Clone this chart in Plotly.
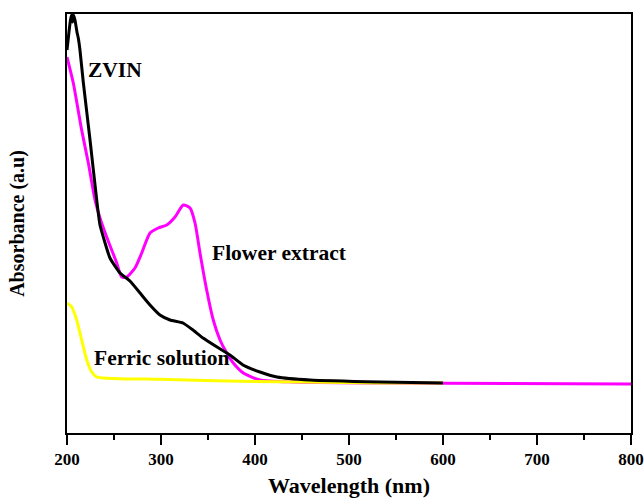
import plotly.graph_objects as go

zvin_x = [200.0, 202.1, 203.7, 204.8, 205.9, 206.9, 208.5, 210.6, 212.0, 213.8, 217.3, 224.5, 231.6,
          235.1, 245.7, 256.4, 267.0, 277.7, 288.3, 298.9, 309.6, 323.4, 334.0, 344.7, 359.6, 373.4,
          387.2, 405.3, 423.4, 458.5, 533.0, 600.0]
zvin_y = [3.83, 4.01, 4.13, 4.18, 4.11, 4.18, 4.13, 4.01, 3.95, 3.83, 3.51, 2.93, 2.33,
          2.08, 1.75, 1.60, 1.52, 1.40, 1.28, 1.18, 1.13, 1.10, 1.03, 0.95, 0.86, 0.78,
          0.68, 0.61, 0.56, 0.53, 0.51, 0.50]

flower_x = [200.0, 206.7, 215.6, 222.7, 229.8, 235.1, 242.2, 252.9, 258.2, 263.5, 272.3, 279.5,
            288.3, 297.1, 306.1, 314.9, 323.7, 330.9, 336.2, 341.5, 348.6, 355.6, 362.8, 369.9,
            376.9, 387.6, 405.3, 440.4, 533.0, 800.0]
flower_y = [3.76, 3.50, 3.03, 2.70, 2.33, 2.15, 1.96, 1.70, 1.56, 1.56, 1.65, 1.80,
            2.00, 2.05, 2.08, 2.16, 2.28, 2.25, 2.10, 1.80, 1.43, 1.13, 0.93, 0.80,
            0.70, 0.60, 0.53, 0.51, 0.50, 0.49]

ferric_x = [200.0, 205.0, 210.3, 215.6, 221.0, 226.3, 231.6, 238.6, 263.5, 284.8, 298.9, 369.9, 533.0, 600.0]
ferric_y = [1.30, 1.26, 1.13, 0.93, 0.73, 0.61, 0.56, 0.55, 0.54, 0.54, 0.537, 0.52, 0.50, 0.50]

x_ticks = [200, 300, 400, 500, 600, 700, 800]

FONT = "Liberation Serif, Times New Roman, serif"

fig = go.Figure()
fig.add_trace(go.Scatter(x=flower_x, y=flower_y, mode="lines", line=dict(color="#FF00FF", width=3, shape="spline", smoothing=0.6), name="Flower extract"))
fig.add_trace(go.Scatter(x=ferric_x, y=ferric_y, mode="lines", line=dict(color="#FFFF00", width=3, shape="spline", smoothing=0.6), name="Ferric solution"))
fig.add_trace(go.Scatter(x=zvin_x, y=zvin_y, mode="lines", line=dict(color="#000000", width=3, shape="spline", smoothing=0.4), name="ZVIN"))

annos = [
    ("ZVIN", 222.3, 3.63),
    ("Flower extract", 354.3, 1.80),
    ("Ferric solution", 228.7, 0.75),
]
for txt, ax, ay in annos:
    fig.add_annotation(x=ax, y=ay, text="<b>" + txt + "</b>", showarrow=False, xanchor="left", yanchor="middle",
                       xshift=-2, font=dict(family=FONT, size=21.5, color="black"))

fig.update_layout(
    width=644, height=498,
    margin=dict(l=67, r=13, t=14, b=65),
    paper_bgcolor="white", plot_bgcolor="white",
    showlegend=False,
    font=dict(family=FONT, color="black"),
    xaxis=dict(
        range=[200, 800], tickvals=x_ticks, ticktext=["<b>%d</b>" % v for v in x_ticks],
        ticks="outside", ticklen=10, tickwidth=2, tickcolor="black",
        minor=dict(dtick=50, tick0=0, ticks="outside", ticklen=5, tickwidth=2, tickcolor="black"),
        showline=True, linewidth=2, linecolor="black", mirror=True,
        showgrid=False, zeroline=False, automargin=False,
        tickfont=dict(family=FONT, size=17, color="black"),
        title=dict(text="<b>Wavelength (nm)</b>", font=dict(family=FONT, size=22, color="black"), standoff=9),
    ),
    yaxis=dict(
        range=[0, 4.19], showticklabels=False, ticks="",
        showline=True, linewidth=2, linecolor="black", mirror=True,
        showgrid=False, zeroline=False, automargin=False,
        title=dict(text="<b>Absorbance (a.u)</b>", font=dict(family=FONT, size=20, color="black"), standoff=35),
    ),
)

fig.write_html("out.html", config={"displayModeBar": False},
               post_script="document.body.style.margin='0px';document.body.style.overflow='hidden';")
